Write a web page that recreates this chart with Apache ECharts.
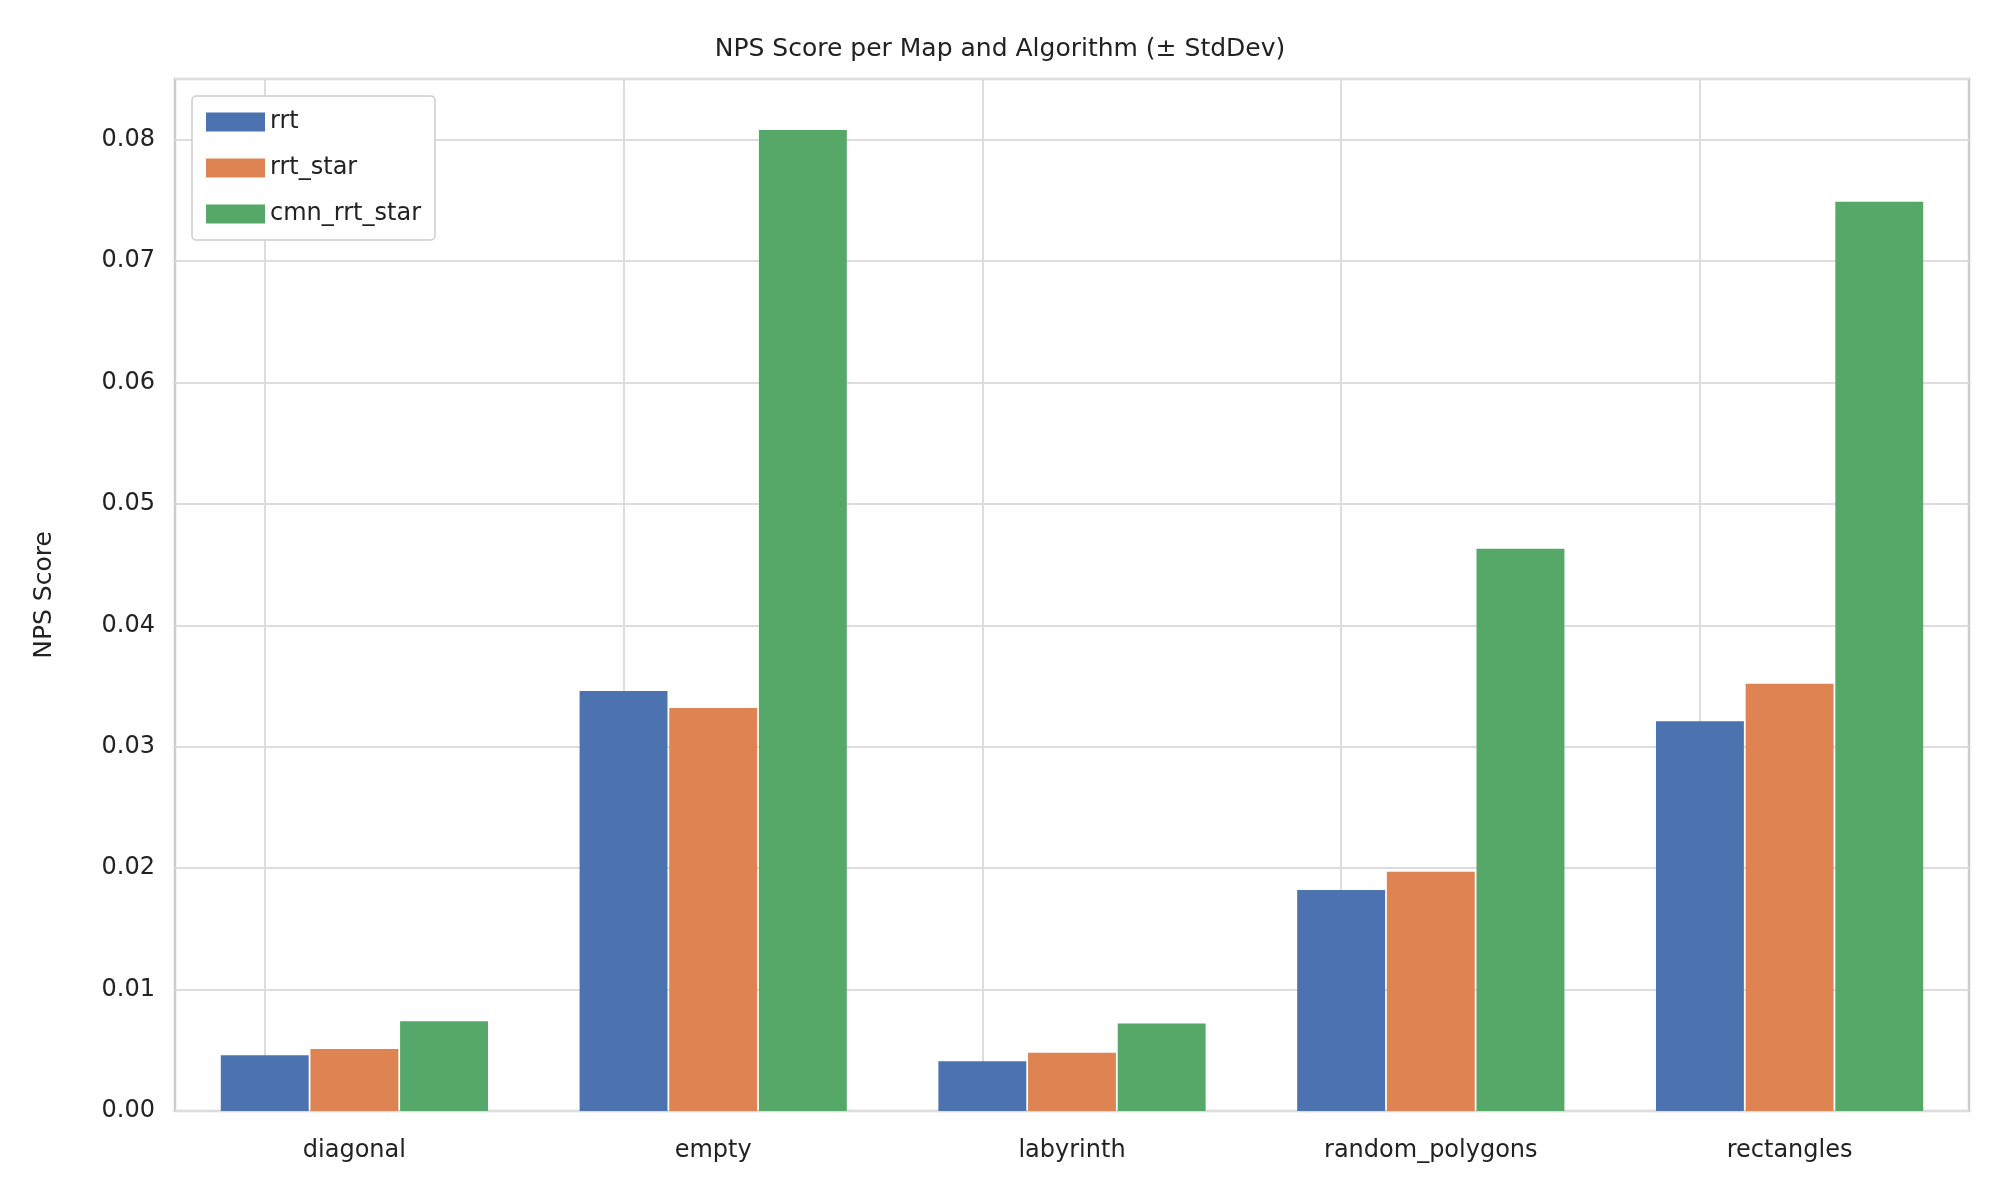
<!DOCTYPE html>
<html><head><meta charset="utf-8">
<script src="https://cdn.jsdelivr.net/npm/echarts@6/dist/echarts.min.js"></script>
<style>html,body{margin:0;background:#fff}#c{width:2000px;height:1200px}</style>
</head><body><div id="c"></div>
<script>
const categories = ['diagonal','empty','labyrinth','random_polygons','rectangles'];
const rrt = [0.0046,0.0346,0.0041,0.0182,0.0321];
const rrtStar = [0.0051,0.0332,0.0048,0.0197,0.0352];
const cmnRrtStar = [0.0074,0.0808,0.0072,0.0463,0.0749];
const yTicks = {min:0,max:0.085,interval:0.01};
const font = 'DejaVu Sans';
const chart = echarts.init(document.getElementById('c'));
const mk = (name,data,color,extra) => Object.assign({
  name,type:'bar',data,barWidth:'24.5%',barGap:'2%',itemStyle:{color},z:3}, extra||{});
chart.setOption({
  animation:false,
  textStyle:{fontFamily:font},
  title:{text:'NPS Score per Map and Algorithm (± StdDev)',left:'center',top:32,
    textStyle:{fontFamily:font,fontSize:25,fontWeight:'normal',color:'#222'}},
  grid:{left:175,right:31,top:79,bottom:89,show:true,borderColor:'#ccc',borderWidth:2.5},
  legend:{left:192,top:96,orient:'vertical',itemWidth:59,itemHeight:19,itemGap:22,
    padding:[14,14,14,14],backgroundColor:'#fff',borderColor:'#ccc',borderWidth:1.5,borderRadius:4,
    textStyle:{fontFamily:font,fontSize:24,color:'#222'},icon:'rect'},
  xAxis:{type:'category',data:categories,axisLine:{show:false},axisTick:{show:false},
    axisLabel:{fontSize:24,color:'#222',margin:28,fontFamily:font}},
  yAxis:{type:'value',min:yTicks.min,max:yTicks.max,interval:yTicks.interval,
    name:'NPS Score',nameLocation:'middle',nameGap:118,nameTextStyle:{fontSize:25,color:'#222',fontFamily:font},
    axisLabel:{fontSize:24,color:'#222',margin:20,fontFamily:font,
      formatter:v=>v.toFixed(2),showMaxLabel:false},
    splitLine:{lineStyle:{color:'#ddd',width:2}},axisLine:{show:false},axisTick:{show:false}},
  series:[
    mk('rrt',rrt,'#4c72b0',{markLine:{silent:true,symbol:'none',label:{show:false},
      lineStyle:{color:'#ddd',width:2,type:'solid'},z:1,
      data:categories.map(c=>({xAxis:c}))}}),
    mk('rrt_star',rrtStar,'#dd8452'),
    mk('cmn_rrt_star',cmnRrtStar,'#55a868')
  ]
});
</script></body></html>
